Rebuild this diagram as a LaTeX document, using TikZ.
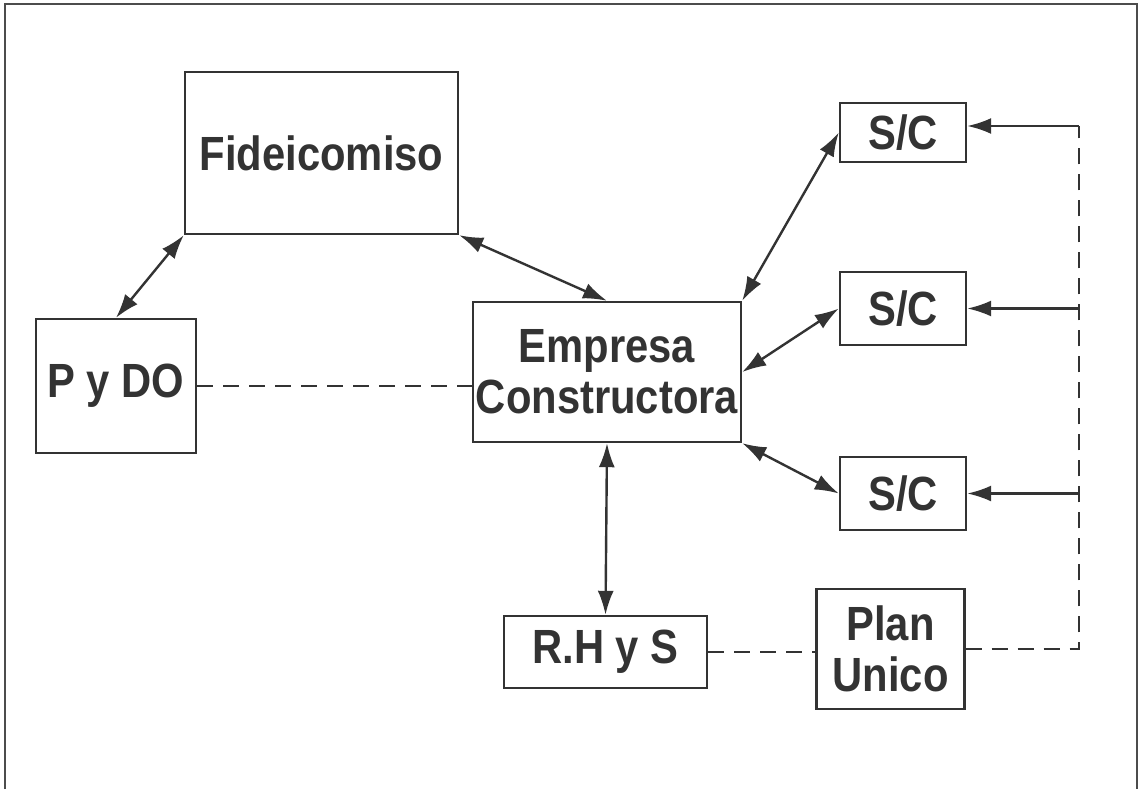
\documentclass[tikz,border=0pt]{standalone}
\usepackage{fontspec}
\setmainfont[FakeStretch=0.87]{Liberation Sans}
\usetikzlibrary{arrows.meta,calc}
\definecolor{ink}{HTML}{333333}
\tikzset{tip/.tip={Latex[length=24pt,width=16pt]}}
\tikzstyle{blk}=[draw=ink, line width=2.4pt, inner sep=0pt, align=center, text=ink, font=\fontsize{48}{51}\selectfont\bfseries]
\tikzstyle{link}=[draw=ink, line width=2.4pt, tip-tip]
\tikzstyle{feed}=[draw=ink, line width=2.4pt, -tip]
\tikzstyle{dashline}=[draw=ink, line width=2.4pt, dash pattern=on 16pt off 10pt]

\begin{document}
\begin{tikzpicture}[x=1pt, y=-1pt]
  \useasboundingbox (0,0) rectangle (1142,789);

  % frame
  \draw[draw=black!70, line width=2.4pt] (5,789) -- (5,4) -- (1137,4) -- (1137,789);

  % boxes
  \node[blk, minimum width=273, minimum height=162] (fid) at (321.5,153) {Fideicomiso};
  \node[blk, minimum width=160, minimum height=134] (pydo) at (116,386) {P y DO};
  \node[blk, minimum width=268, minimum height=140] (emp) at (607,372) {Empresa\\Constructora};
  \node[blk, minimum width=126, minimum height=59] (sc1) at (903,132.5) {S/C};
  \node[blk, minimum width=126, minimum height=73] (sc2) at (903,308.5) {S/C};
  \node[blk, minimum width=126, minimum height=73] (sc3) at (903,493.5) {S/C};
  \node[blk, minimum width=203, minimum height=72] (rhs) at (605.5,652) {R.H y S};
  \node[blk, minimum width=148, minimum height=120] (plan) at (890.5,649) {Plan\\Unico};

  % two way links
  \path[link] (fid.south west) -- (pydo.north);
  \path[link] (fid.south east) -- (emp.north);
  \path[link] (emp.north east) -- (sc1.west);
  \path[link] (emp.east) -- (sc2.west);
  \path[link] (emp.south east) -- (sc3.west);
  \path[link] (emp.south) -- (rhs.north);

  % dashed relations
  \path[dashline] (pydo.east) -- (emp.west |- pydo.east);
  \path[dashline] (rhs.east) -- (plan.west |- rhs.east);
  \coordinate (bustop) at (1079,126);
  \coordinate (busbot) at (1079,649);
  \path[dashline] (plan.east |- busbot) -- (busbot) -- (bustop);

  % feeds to S/C
  \path[feed] (bustop) -- (sc1.east |- bustop);
  \path[feed] (sc2.east -| busbot) -- (sc2.east);
  \path[feed] (sc3.east -| busbot) -- (sc3.east);
\end{tikzpicture}
\end{document}
